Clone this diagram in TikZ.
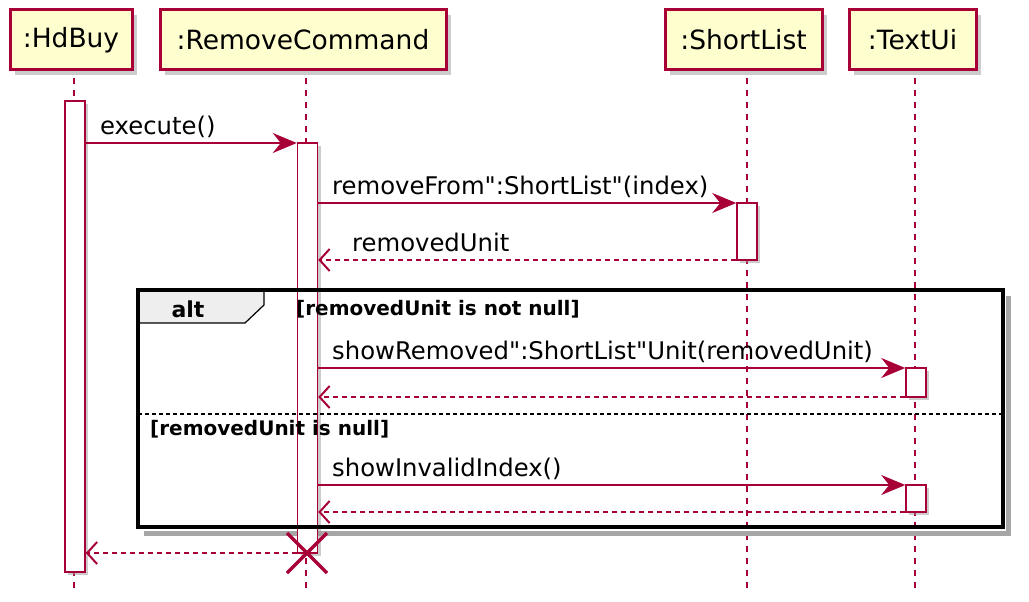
\documentclass[tikz,border=0pt]{standalone}
\usepackage{fontspec}
\setmainfont{DejaVu Sans}
\usetikzlibrary{arrows.meta,shadows,calc}
\definecolor{umlred}{HTML}{A80036}
\definecolor{umlfill}{HTML}{FEFECE}
\definecolor{tabfill}{HTML}{EEEEEE}
\tikzset{
  partbox/.style={draw=umlred, fill=umlfill, line width=3pt, inner sep=0pt,
    minimum height=60pt, drop shadow={shadow xshift=5pt, shadow yshift=-5pt, fill=black!40},
    font=\fontsize{26.5}{30}\selectfont},
  lifeln/.style={draw=umlred, line width=1.5pt, dash pattern=on 6pt off 6pt},
  actbox/.style={draw=umlred, fill=white, line width=1.5pt, inner sep=0pt, minimum width=20pt,
    drop shadow={shadow xshift=3pt, shadow yshift=-3pt, fill=black!40}},
  msg/.style={draw=umlred, line width=2pt, -{Stealth[length=24pt,width=20pt,inset=8pt]}},
  retmsg/.style={draw=umlred, line width=2pt, dash pattern=on 5pt off 4pt,
    -{Straight Barb[length=10pt,width=22pt,line width=2pt]}},
  msglabel/.style={anchor=base west, inner sep=0pt, font=\fontsize{24.3}{28}\selectfont},
  guardlabel/.style={anchor=base west, inner sep=0pt, font=\fontsize{20}{24}\selectfont\bfseries},
}
\begin{document}
\begin{tikzpicture}[x=1pt,y=-1pt]
\useasboundingbox (0,0) rectangle (1029,602);
% participants
\node[partbox, minimum width=122pt] (pH) at (71,40) {:HdBuy};
\node[partbox, minimum width=286pt] (pR) at (303,40) {:RemoveCommand};
\node[partbox, minimum width=157pt] (pS) at (743.5,40) {:ShortList};
\node[partbox, minimum width=127pt] (pT) at (912.5,40) {:TextUi};
% lifeline ends
\coordinate (tH) at (74,78); \coordinate (bH) at (74,592);
\coordinate (tR) at (306,78); \coordinate (bR) at (306,592);
\coordinate (tS) at (747,78); \coordinate (bS) at (747,592);
\coordinate (tT) at (915,78); \coordinate (bT) at (915,592);
\draw[lifeln] (tH) -- (bH);
\draw[lifeln] (tR) -- (bR);
\draw[lifeln] (tS) -- (bS);
\draw[lifeln] (tT) -- (bT);
% alt frame shadow
\draw[black!35, line width=5pt] (1008,296) -- (1008,533) -- (144,533);
% activations
\node[actbox, minimum height=471pt] (aH) at (75,336.5) {};
\node[actbox, minimum height=410pt] (aR) at (307.5,348) {};
\node[actbox, minimum height=57pt] (aS) at (747,231.5) {};
\node[actbox, minimum height=29pt] (aT1) at (916,382.5) {};
\node[actbox, minimum height=27pt] (aT2) at (916,498.5) {};
% alt frame
\coordinate (fTL) at (138,290);
\coordinate (fBR) at (1003,527);
\draw[line width=3.5pt] (fTL) rectangle (fBR);
\draw[fill=tabfill, line width=1.2pt] (138,290) -- (264,290) -- (264,305) -- (245,323) -- (138,323) -- cycle;
\draw[line width=3.5pt] (fTL) -- (1003,290);
\draw[line width=3.5pt] (fTL) -- (138,323);
\node[anchor=base, inner sep=0pt, font=\fontsize{22}{26}\selectfont\bfseries] (altl) at (188,317) {alt};
\node[guardlabel] (g1) at (296,315) {[removedUnit is not null]};
\draw[line width=1.5pt, dash pattern=on 4pt off 3pt] (138,414) -- (1003,414);
\node[guardlabel] (g2) at (150,435) {[removedUnit is null]};
% messages
\coordinate (y1) at (0,143);
\coordinate (y2) at (0,203);
\coordinate (y3) at (0,260);
\coordinate (y4) at (0,368);
\coordinate (y5) at (0,397);
\coordinate (y6) at (0,485);
\coordinate (y7) at (0,512);
\coordinate (y8) at (0,553);
\draw[msg] (aH.east |- y1) -- (aR.west |- y1);
\node[msglabel] (l1) at (100,134) {execute()};
\draw[msg] (aR.east |- y2) -- (aS.west |- y2);
\node[msglabel] (l2) at (332,194) {removeFrom\textquotedbl:ShortList\textquotedbl(index)};
\draw[retmsg] (aS.west |- y3) -- (aR.east |- y3);
\node[msglabel] (l3) at (352,251) {removedUnit};
\draw[msg] (aR.east |- y4) -- (aT1.west |- y4);
\node[msglabel] (l4) at (332,359) {showRemoved\textquotedbl:ShortList\textquotedbl Unit(removedUnit)};
\draw[retmsg] (aT1.west |- y5) -- (aR.east |- y5);
\draw[msg] (aR.east |- y6) -- (aT2.west |- y6);
\node[msglabel] (l6) at (332,476) {showInvalidIndex()};
\draw[retmsg] (aT2.west |- y7) -- (aR.east |- y7);
\draw[retmsg] (aR.west |- y8) -- (aH.east |- y8);
% destroy
\coordinate (xc) at (307,553);
\draw[umlred, line width=3.5pt] ($(xc)+(-20,-20)$) -- ($(xc)+(20,20)$);
\draw[umlred, line width=3.5pt] ($(xc)+(-20,20)$) -- ($(xc)+(20,-20)$);
\end{tikzpicture}
\end{document}
